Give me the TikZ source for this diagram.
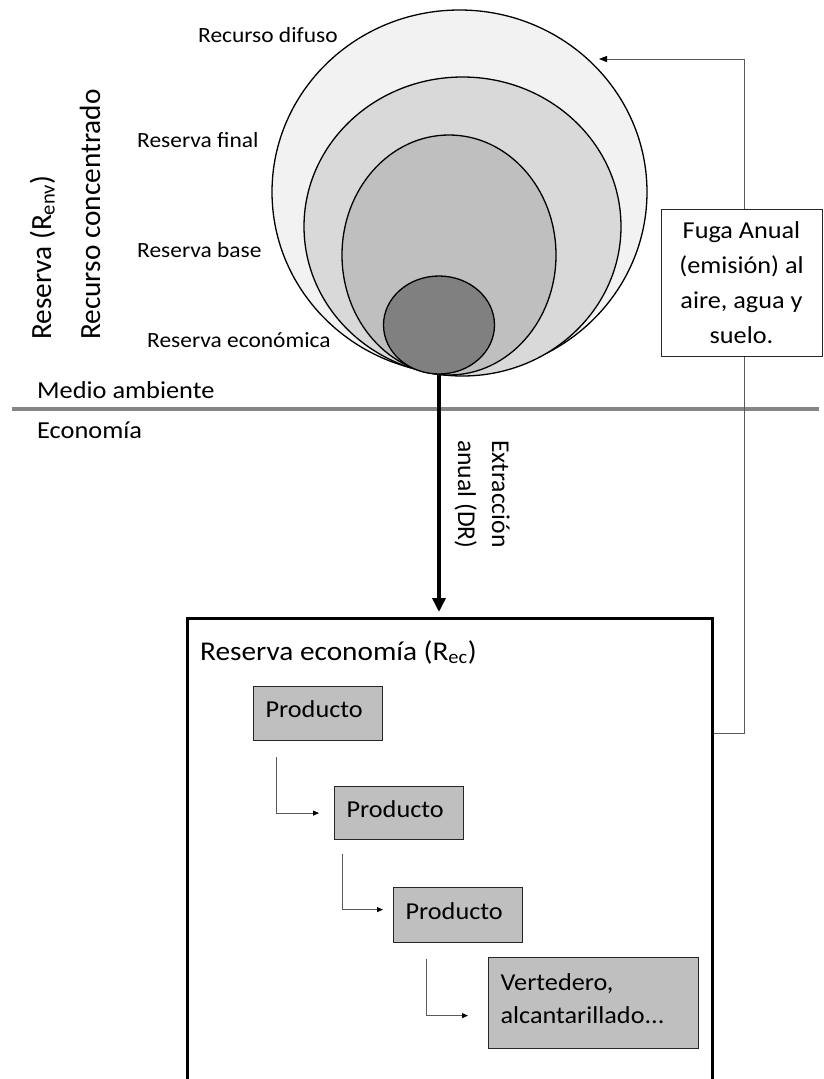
\documentclass[tikz,border=0pt]{standalone}
\usepackage{fontspec}
\setmainfont{Carlito}[FakeStretch=1.08]
\newfontfamily\uprightlabel{Carlito}
\usetikzlibrary{arrows.meta,shapes.geometric,calc}

\definecolor{diffuse}{HTML}{F2F2F2}
\definecolor{ultimate}{HTML}{D9D9D9}
\definecolor{basefill}{HTML}{BFBFBF}
\definecolor{econfill}{HTML}{808080}
\definecolor{boxfill}{HTML}{BFBFBF}
\definecolor{divider}{HTML}{858585}
\definecolor{thinline}{HTML}{5A5A5A}

\begin{document}
\begin{tikzpicture}[x=1pt,y=-1pt,
  resource/.style={ellipse, draw=black, line width=1.3pt, inner sep=0pt},
  lbl/.style={anchor=base west, inner sep=0pt, font=\fontsize{21.7}{26}\selectfont},
  side/.style={anchor=base west, inner sep=0pt, font=\fontsize{24.4}{29}\selectfont},
  vlabel/.style={anchor=base west, inner sep=0pt, rotate=90,
    font=\uprightlabel\fontsize{29.3}{35}\selectfont},
  stock/.style={draw=black!85, line width=1.2pt, fill=boxfill, anchor=north west,
    inner xsep=12pt, inner ysep=0pt, align=left, text depth=9pt,
    font=\fontsize{24.3}{33}\selectfont},
  flow/.style={draw=thinline, line width=0.9pt, -{Triangle[length=6pt,width=5pt,black]}},
]
\useasboundingbox (0,0) rectangle (823,1079);
\clip (0,0) rectangle (823,1079);

% nested resource stocks of the environment
\node[resource, fill=diffuse,  minimum width=375, minimum height=364] (e1) at (459.5,192) {};
\node[resource, fill=ultimate, minimum width=317, minimum height=299] (e2) at (462.5,226.5) {};
\node[resource, fill=basefill, minimum width=214, minimum height=240] (e3) at (449,255) {};
\node[resource, fill=econfill, minimum width=111, minimum height=98]  (e4) at (439,325) {};

\node[lbl] (difuso) at (198,42)  {Recurso difuso};
\node[lbl] (final)  at (137,147) {Reserva final};
\node[lbl] (basel)  at (137,257) {Reserva base};
\node[lbl] (econl)  at (147,347) {Reserva económica};

\node[vlabel] (renv) at (51,340)  {Reserva (R\textsubscript{env})};
\node[vlabel] (conc) at (100,340) {Recurso concentrado};

% boundary between environment and economy
\draw[divider, line width=4pt] (12,408.5) -- (819,408.5);
\node[side] (envt) at (37,398) {Medio ambiente};
\node[side] (ecot) at (37,438) {Economía};

% stock in the economy
\node[draw=black, line width=2.5pt, anchor=north west, minimum width=525,
      minimum height=500, inner sep=0pt] (eco) at (186,617) {};
\node[anchor=base west, inner sep=0pt, font=\fontsize{27.1}{32}\selectfont]
  (ecotitle) at (200,660) {Reserva economía (R\textsubscript{ec})};

\node[stock, text width=105, minimum height=54] (P1) at (253,686) {Producto};
\node[stock, text width=105, minimum height=53] (P2) at (334,786) {Producto};
\node[stock, text width=105, minimum height=55] (P3) at (393,887) {Producto};
\node[stock, text width=186, minimum height=91, text depth=42pt] (V) at (488,957)
  {Vertedero,\\alcantarillado...};

\draw[flow] ($(P1.south west)+(23,16)$) |- ($(P2.west)+(-15,0)$);
\draw[flow] ($(P2.south west)+(8,14)$)  |- ($(P3.west)+(-10,-5.5)$);
\draw[flow] ($(P3.south west)+(33,16)$) |- ($(V.west)+(-20,12.5)$);

% annual extraction
\draw[line width=4pt, -{Triangle[length=14pt,width=13pt]}, shorten >=5pt]
  (e4.south) -- (e4.south |- eco.north);
\node[anchor=base west, inner sep=0pt, rotate=-90, align=left,
      font=\uprightlabel\fontsize{25.6}{34}\selectfont] (extr) at (458,440)
  {Extracción\\anual (DR)};

% annual leakage back to the environment
\coordinate (leak) at (599,59);
\draw[thinline, line width=1pt, -{Triangle[length=8pt,width=6pt,black]}]
  ($(eco.north east)+(0,116)$) -- ++(31,0) |- (leak);
\node[draw=black!85, line width=1pt, fill=white, minimum width=161, minimum height=147,
      inner sep=0pt, align=center, font=\fontsize{24.3}{35}\selectfont]
  (leakbox) at (741.5,282.5) {Fuga Anual\\(emisión) al\\aire, agua y\\suelo.};
\end{tikzpicture}
\end{document}
